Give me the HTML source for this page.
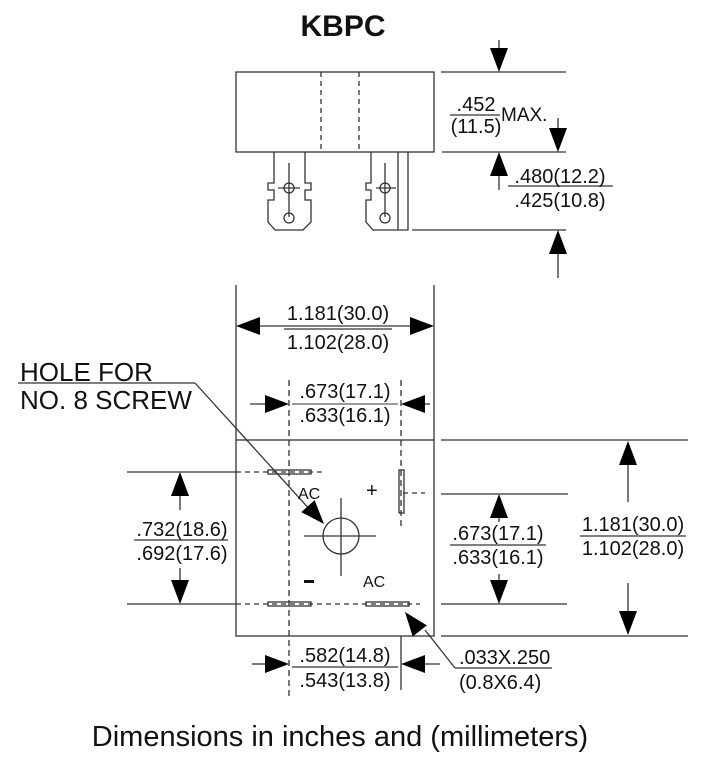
<!DOCTYPE html>
<html><head><style>
html,body{margin:0;padding:0;background:#fff;}
svg{display:block;}
text{font-family:"Liberation Sans",Arial,sans-serif;fill:#111;}
</style></head><body>
<svg width="717" height="757" viewBox="0 0 717 757" xmlns="http://www.w3.org/2000/svg">
<defs>
<path id="ad" d="M-9,-24 L9,-24 L0,0 Z" fill="#000"/>
</defs>
<g stroke="#333" stroke-width="1.3" fill="none">
<rect x="236" y="72" width="198" height="80"/>
<line x1="321" y1="72" x2="321" y2="152" stroke-dasharray="5,4"/>
<line x1="359" y1="72" x2="359" y2="152" stroke-dasharray="5,4"/>
<path d="M274,152 V183 H268 V190 H274 V200 H268 V222 L275,230 H303 L311,222 V200 H305 V190 H311 V183 H305 V152"/>
<line x1="289" y1="163" x2="289" y2="217"/>
<line x1="278" y1="188" x2="300" y2="188"/>
<circle cx="289" cy="188" r="5"/>
<circle cx="289" cy="218" r="5"/>
<path d="M371,152 V183 H366 V190 H371 V200 H366 V222 L373,230 H408 V152"/>
<line x1="398" y1="152" x2="398" y2="230"/>
<line x1="385" y1="163" x2="385" y2="217"/>
<line x1="376" y1="188" x2="396" y2="188"/>
<circle cx="385" cy="188" r="5"/>
<circle cx="385" cy="218" r="5"/>
<line x1="441" y1="72" x2="566" y2="72"/>
<line x1="442" y1="152" x2="566" y2="152"/>
<line x1="412" y1="230" x2="566" y2="230"/>
<line x1="499" y1="40" x2="499" y2="60"/>
<line x1="558" y1="118" x2="558" y2="140"/>
<line x1="499" y1="165" x2="499" y2="190"/>
<line x1="558" y1="245" x2="558" y2="278"/>
<line x1="450" y1="115" x2="500" y2="115"/>
<line x1="508" y1="186" x2="613" y2="186"/>
<line x1="236" y1="285" x2="236" y2="440"/>
<line x1="434" y1="285" x2="434" y2="440"/>
<line x1="252" y1="326" x2="418" y2="326"/>
<line x1="284" y1="329" x2="392" y2="329"/>
<line x1="250" y1="404" x2="280" y2="404"/>
<line x1="410" y1="404" x2="430" y2="404"/>
<line x1="292" y1="404" x2="398" y2="404" stroke-width="1"/>
<rect x="236" y="440" width="198" height="196"/>
<line x1="289" y1="380" x2="289" y2="700" stroke-dasharray="6,4"/>
<line x1="401" y1="380" x2="401" y2="530" stroke-dasharray="6,4"/>
<line x1="401" y1="636" x2="401" y2="690"/>
<line x1="127" y1="472" x2="236" y2="472"/>
<line x1="236" y1="472" x2="322" y2="472" stroke-dasharray="5,4"/>
<line x1="127" y1="604" x2="236" y2="604"/>
<line x1="236" y1="604" x2="420" y2="604" stroke-dasharray="5,4"/>
<line x1="403" y1="493" x2="425" y2="493" stroke-dasharray="5,4"/>
<rect x="268" y="470" width="43" height="4"/>
<rect x="399" y="470" width="5" height="43"/>
<rect x="268" y="602" width="43" height="4"/>
<rect x="366" y="602" width="43" height="4"/>
<circle cx="341" cy="536" r="18"/>
<line x1="304" y1="536" x2="376" y2="536"/>
<line x1="341" y1="498" x2="341" y2="576"/>
<line x1="180" y1="495" x2="180" y2="510"/>
<line x1="180" y1="568" x2="180" y2="582"/>
<line x1="134" y1="540" x2="228" y2="540"/>
<line x1="441" y1="440" x2="688" y2="440"/>
<line x1="441" y1="494" x2="568" y2="494"/>
<line x1="441" y1="604" x2="567" y2="604"/>
<line x1="441" y1="636" x2="688" y2="636"/>
<line x1="499" y1="515" x2="499" y2="522"/>
<line x1="499" y1="574" x2="499" y2="582"/>
<line x1="450" y1="545" x2="546" y2="545"/>
<line x1="628" y1="462" x2="628" y2="502"/>
<line x1="628" y1="583" x2="628" y2="614"/>
<line x1="580" y1="536" x2="686" y2="536"/>
<line x1="252" y1="664" x2="268" y2="664"/>
<line x1="422" y1="664" x2="440" y2="664"/>
<line x1="292" y1="667" x2="398" y2="667"/>
<line x1="425" y1="630" x2="455" y2="668"/>
<line x1="455" y1="668" x2="552" y2="668"/>
<line x1="18" y1="383" x2="195" y2="383"/>
<line x1="195" y1="383" x2="312" y2="512"/>
</g>
<use href="#ad" transform="translate(499,72)"/>
<use href="#ad" transform="translate(558,152)"/>
<use href="#ad" transform="translate(499,152) rotate(180)"/>
<use href="#ad" transform="translate(558,230) rotate(180)"/>
<use href="#ad" transform="translate(236,326) rotate(90)"/>
<use href="#ad" transform="translate(434,326) rotate(-90)"/>
<use href="#ad" transform="translate(289,404) rotate(-90)"/>
<use href="#ad" transform="translate(401,404) rotate(90)"/>
<use href="#ad" transform="translate(180,472) rotate(180)"/>
<use href="#ad" transform="translate(180,604)"/>
<use href="#ad" transform="translate(499,494) rotate(180)"/>
<use href="#ad" transform="translate(499,604)"/>
<use href="#ad" transform="translate(628,441) rotate(180)"/>
<use href="#ad" transform="translate(628,635)"/>
<use href="#ad" transform="translate(289,664) rotate(-90)"/>
<use href="#ad" transform="translate(401,664) rotate(90)"/>
<use href="#ad" transform="translate(324,524) rotate(-42)"/>
<use href="#ad" transform="translate(405,612) rotate(142)"/>
<text x="343" y="36" font-size="30" font-weight="bold" text-anchor="middle">KBPC</text>
<text x="476" y="111" font-size="20" text-anchor="middle">.452</text>
<text x="476" y="133" font-size="20" text-anchor="middle">(11.5)</text>
<text x="501" y="121" font-size="19">MAX.</text>
<text x="560" y="183" font-size="20" text-anchor="middle">.480(12.2)</text>
<text x="560" y="207" font-size="20" text-anchor="middle">.425(10.8)</text>
<text x="338" y="320" font-size="20" text-anchor="middle">1.181(30.0)</text>
<text x="338" y="349" font-size="20" text-anchor="middle">1.102(28.0)</text>
<text x="345" y="398" font-size="20" text-anchor="middle">.673(17.1)</text>
<text x="345" y="422" font-size="20" text-anchor="middle">.633(16.1)</text>
<text x="20" y="381" font-size="26">HOLE FOR</text>
<text x="20" y="409" font-size="26">NO. 8 SCREW</text>
<text x="298" y="499" font-size="16">AC</text>
<text x="366" y="497" font-size="20">+</text>
<rect x="304" y="580" width="10" height="3" fill="#111"/>
<text x="363" y="587" font-size="16">AC</text>
<text x="182" y="536" font-size="20" text-anchor="middle">.732(18.6)</text>
<text x="182" y="560" font-size="20" text-anchor="middle">.692(17.6)</text>
<text x="498" y="540" font-size="20" text-anchor="middle">.673(17.1)</text>
<text x="498" y="564" font-size="20" text-anchor="middle">.633(16.1)</text>
<text x="633" y="531" font-size="20" text-anchor="middle">1.181(30.0)</text>
<text x="633" y="555" font-size="20" text-anchor="middle">1.102(28.0)</text>
<text x="345" y="662" font-size="20" text-anchor="middle">.582(14.8)</text>
<text x="345" y="687" font-size="20" text-anchor="middle">.543(13.8)</text>
<text x="459" y="664" font-size="20">.033X.250</text>
<text x="459" y="689" font-size="20">(0.8X6.4)</text>
<text x="340" y="746" font-size="29" text-anchor="middle">Dimensions in inches and (millimeters)</text>
</svg>
</body></html>
